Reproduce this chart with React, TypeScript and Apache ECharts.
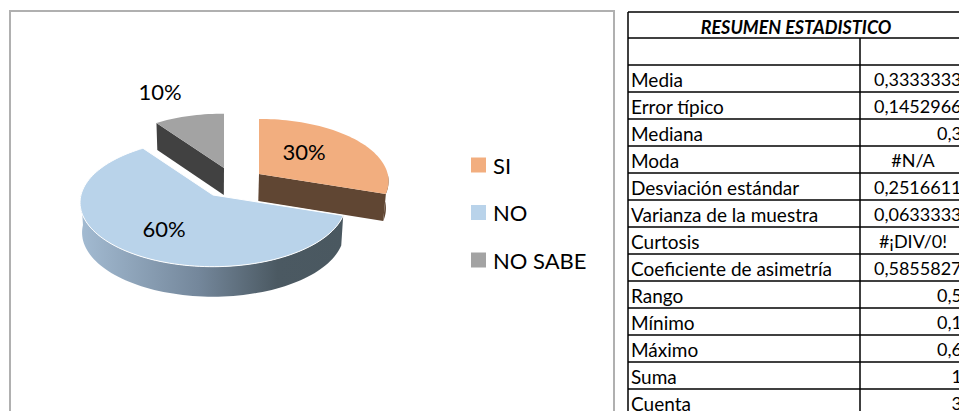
import React, { useEffect, useRef } from "react";
import * as echarts from "echarts";

const categories = ["SI", "NO", "NO SABE"];
const shares = [0.3, 0.6, 0.1];
const tableTitle = "RESUMEN ESTADISTICO";
const statNames = ["Media", "Error típico", "Mediana", "Moda", "Desviación estándar", "Varianza de la muestra", "Curtosis", "Coeficiente de asimetría", "Rango", "Mínimo", "Máximo", "Suma", "Cuenta"];
const statValues = ["0,33333333", "0,14529663", "0,3", "#N/A", "0,25166115", "0,06333333", "#¡DIV/0!", "0,58558273", "0,5", "0,1", "0,6", "1", "3"];

const FONT = "Lato";
const PIE = { cx: 213, cy: 195, rx: 132, ry: 64, persp: 0.12, shrink: 0.985 };
const SLICES = [
  { dx: 46, dy: -21, scale: 0.975, depth: 27, top: "#f2ae7f", side: "#604633", label: [91, -44] },
  {
    dx: 0, dy: 0, scale: 1, depth: 30, top: "#b9d3ea", label: [-49, 33],
    side: new echarts.graphic.LinearGradient(0, 0, 1, 0, [
      { offset: 0, color: "#a3bbd2" },
      { offset: 0.45, color: "#74879b" },
      { offset: 0.75, color: "#4b5962" },
      { offset: 1, color: "#4a5860" },
    ]),
  },
  { dx: 11, dy: -27, scale: 0.96, depth: 27, top: "#a3a3a3", side: "#414141", label: [-53, -104] },
];

const project = (deg: number, r: number, s: any, lower: boolean) => {
  const a = (deg * Math.PI) / 180;
  const u = r * s.scale * Math.sin(a);
  const v = -r * s.scale * Math.cos(a);
  const p = 1 + PIE.persp * v;
  const k = lower ? PIE.shrink : 1;
  const x = PIE.cx + (PIE.rx * u * p + s.dx) * k;
  const y = PIE.cy + PIE.ry * v * p + s.dy + (lower ? s.depth : 0);
  return [x, y];
};

const arc = (from: number, to: number, s: any, lower: boolean) => {
  const pts: number[][] = [];
  const n = Math.max(2, Math.ceil(Math.abs(to - from) / 2));
  for (let i = 0; i <= n; i++) pts.push(project(from + ((to - from) * i) / n, 1, s, lower));
  return pts;
};

const sliceRenderer = (idx: number) => (_p: any, api: any) => {
  const total = shares.reduce((a, b) => a + b, 0);
  const before = shares.slice(0, idx).reduce((a, b) => a + b, 0);
  const start = (before / total) * 360;
  const end = start + (api.value(0) / total) * 360;
  const s = SLICES[idx];
  const children: any[] = [];
  const apexTop = project(0, 0, s, false);
  const apexLow = project(0, 0, s, true);
  const fs = Math.max(start, 90);
  const fe = Math.min(end, 270);
  if (fs < fe) {
    const points = [...arc(fs, fe, s, false), ...arc(fe, fs, s, true)];
    children.push({ type: "polygon", shape: { points }, style: { fill: s.side } });
  }
  if (start > 180) {
    const e = project(start, 1, s, false);
    const l = project(start, 1, s, true);
    children.push({ type: "polygon", shape: { points: [apexTop, e, l, apexLow] }, style: { fill: s.side } });
  }
  if (end < 180) {
    const e = project(end, 1, s, false);
    const l = project(end, 1, s, true);
    children.push({ type: "polygon", shape: { points: [apexTop, e, l, apexLow] }, style: { fill: s.side } });
  }
  children.push({
    type: "polygon",
    shape: { points: [apexTop, ...arc(start, end, s, false)] },
    style: { fill: s.top, stroke: idx === 1 ? "#ffffff" : undefined, lineWidth: idx === 1 ? 1 : 0 },
  });
  children.push({
    type: "text",
    x: PIE.cx + s.label[0],
    y: PIE.cy + s.label[1],
    style: {
      text: Math.round((api.value(0) / total) * 100) + "%",
      fontFamily: FONT,
      fontSize: 22,
      fill: "#000000",
      align: "center",
      verticalAlign: "middle",
    },
  });
  return { type: "group", children };
};

const TABLE = { left: 628, right: 966, div: 860, top: 12, titleBottom: 38, headBottom: 65, rowH: 27, bottom: 417 };

const tableGraphics = () => {
  const els: any[] = [];
  const line = (x1: number, y1: number, x2: number, y2: number) =>
    els.push({ type: "line", silent: true, shape: { x1, y1, x2, y2 }, style: { stroke: "#000000", lineWidth: 1.5 } });
  line(TABLE.left, TABLE.top, TABLE.right, TABLE.top);
  line(TABLE.left, TABLE.titleBottom, TABLE.right, TABLE.titleBottom);
  line(TABLE.left, TABLE.headBottom, TABLE.right, TABLE.headBottom);
  line(TABLE.left, TABLE.top, TABLE.left, TABLE.bottom);
  line(TABLE.div, TABLE.titleBottom, TABLE.div, TABLE.bottom);
  els.push({
    type: "text", silent: true, x: 796, y: 27,
    style: { text: tableTitle, fontFamily: FONT, fontSize: 18, fontWeight: "bold", fontStyle: "italic", fill: "#000", align: "center", verticalAlign: "middle" },
  });
  statNames.forEach((name, i) => {
    const y0 = TABLE.headBottom + i * TABLE.rowH;
    line(TABLE.left, y0 + TABLE.rowH, TABLE.right, y0 + TABLE.rowH);
    els.push({
      type: "text", silent: true, x: 631, y: y0 + 14,
      style: { text: name, fontFamily: FONT, fontSize: 19, fill: "#000", align: "left", verticalAlign: "middle" },
    });
    const v = statValues[i];
    const err = v.startsWith("#");
    els.push({
      type: "text", silent: true, x: err ? 913 : v.length > 4 ? 972 : 962, y: y0 + 14,
      style: { text: v, fontFamily: FONT, fontSize: 18, fill: "#000", align: err ? "center" : "right", verticalAlign: "middle" },
    });
  });
  return els;
};

export default function App() {
  const ref = useRef<HTMLDivElement>(null);
  useEffect(() => {
    document.body.style.margin = "0";
    document.body.style.overflow = "hidden";
    const chart = echarts.init(ref.current!, null, { renderer: "svg" });
    chart.setOption({
      animation: false,
      backgroundColor: "#ffffff",
      legend: {
        orient: "vertical",
        left: 471,
        top: 154,
        padding: 0,
        itemWidth: 15,
        itemHeight: 15,
        itemGap: 25.5,
        selectedMode: false,
        icon: "rect",
        data: categories,
        textStyle: { fontFamily: FONT, fontSize: 22, lineHeight: 22, color: "#000000", padding: [0, 0, 0, 2] },
      },
      graphic: [
        {
          type: "rect", silent: true, z: -1,
          shape: { x: 10, y: 11, width: 604, height: 420 },
          style: { fill: "#ffffff", stroke: "#b0b0b0", lineWidth: 2 },
        },
        ...tableGraphics(),
      ],
      series: categories.map((name, i) => ({
        type: "custom",
        name,
        coordinateSystem: "none",
        silent: true,
        z: i === 1 ? 3 : 2,
        itemStyle: { color: SLICES[i].top },
        data: [[shares[i]]],
        renderItem: sliceRenderer(i),
      })),
    });
    return () => chart.dispose();
  }, []);
  return <div ref={ref} style={{ position: "absolute", left: 0, top: 0, width: 959, height: 411 }} />;
}
